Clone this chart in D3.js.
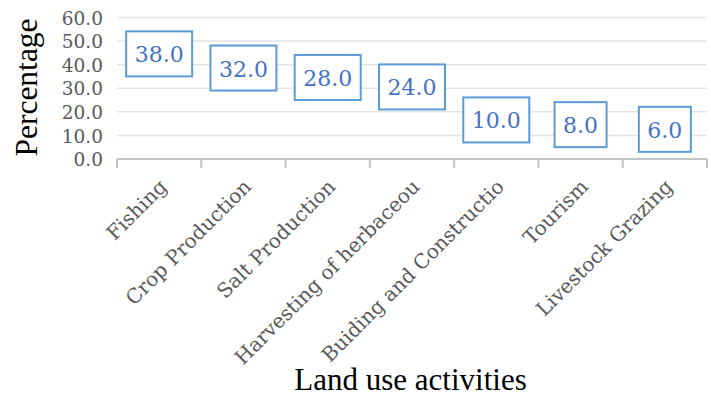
<!DOCTYPE html>
<html>
<head>
<meta charset="utf-8">
<script src="https://cdn.jsdelivr.net/npm/d3@7"></script>
<style>
  html, body { margin: 0; padding: 0; background: #fff; }
  svg { display: block; }
</style>
</head>
<body>
<svg id="chart" width="711" height="396"></svg>
<script>
// Land use activities and their share (%)
const categories = ["Fishing", "Crop Production", "Salt Production", "Harvesting of herbaceou",
                    "Buiding and Constructio", "Tourism", "Livestock Grazing"];
const values = [38.0, 32.0, 28.0, 24.0, 10.0, 8.0, 6.0];
const yTicks = [0, 10, 20, 30, 40, 50, 60];

const svg = d3.select("#chart");
const plot = { left: 117, right: 707, top: 17.5, bottom: 159 };

const x = d3.scaleBand().domain(categories).range([plot.left, plot.right]).padding(0);
const y = d3.scaleLinear().domain([0, 60]).range([plot.bottom, plot.top]);

// gridlines
svg.append("g").selectAll("line").data(yTicks.filter(d => d > 0)).join("line")
  .attr("x1", plot.left).attr("x2", plot.right)
  .attr("y1", d => y(d)).attr("y2", d => y(d))
  .attr("stroke", "#e3e3e3").attr("stroke-width", 1.5);

// y axis tick labels
const yAxis = d3.axisLeft(y).tickValues(yTicks).tickFormat(d3.format(".1f")).tickSize(0).tickPadding(0);
const yg = svg.append("g").attr("transform", `translate(103,0)`).call(yAxis);
yg.select(".domain").remove();
yg.selectAll("text")
  .attr("font-family", "DejaVu Serif").attr("font-size", 18.5).attr("fill", "#595959")
  .attr("dy", "0.36em");

// x axis with ticks between categories
const xg = svg.append("g").attr("transform", `translate(0,${plot.bottom})`);
xg.append("line").attr("x1", plot.left).attr("x2", plot.right)
  .attr("stroke", "#c4c4c4").attr("stroke-width", 2);
const edges = categories.map(c => x(c)).concat([plot.right]);
xg.selectAll("line.tick").data(edges).join("line").attr("class", "tick")
  .attr("x1", d => d).attr("x2", d => d).attr("y1", 0).attr("y2", 9)
  .attr("stroke", "#c4c4c4").attr("stroke-width", 2);

xg.selectAll("text.cat").data(categories).join("text").attr("class", "cat")
  .attr("transform", d => `translate(${x(d) + x.bandwidth() / 2 + 4},${24}) rotate(-45)`)
  .attr("text-anchor", "end")
  .attr("dy", "0.35em")
  .attr("font-family", "DejaVu Serif").attr("font-size", 20).attr("fill", "#595959")
  .text(d => d);

// invisible bars (no fill)
const data = categories.map((c, i) => ({ c, v: values[i] }));
svg.append("g").selectAll("rect").data(data).join("rect")
  .attr("x", d => x(d.c) + x.bandwidth() * 0.2).attr("width", x.bandwidth() * 0.6)
  .attr("y", d => y(d.v)).attr("height", d => y(0) - y(d.v))
  .attr("fill", "none");

// boxed value labels
const lab = svg.append("g").selectAll("g").data(data).join("g")
  .attr("transform", d => `translate(${x(d.c) + x.bandwidth() / 2},${y(d.v) - 15.5})`);
lab.append("rect");
lab.append("text")
  .attr("text-anchor", "middle").attr("y", 8.5)
  .attr("font-family", "DejaVu Serif").attr("font-size", 22).attr("fill", "#4472c4")
  .text(d => d.v.toFixed(1));
lab.each(function() {
  const g = d3.select(this);
  const w = g.select("text").node().getBBox().width + 17;
  g.select("rect").attr("x", -w / 2).attr("y", -22.5).attr("width", w).attr("height", 45)
    .attr("fill", "#fff").attr("stroke", "#5b9bd5").attr("stroke-width", 2);
});

// axis titles
svg.append("text")
  .attr("transform", `translate(37,87.5) rotate(-90)`)
  .attr("text-anchor", "middle")
  .attr("font-family", "Liberation Serif").attr("font-size", 31.5).attr("fill", "#000")
  .text("Percentage");
svg.append("text")
  .attr("x", 410.5).attr("y", 390).attr("text-anchor", "middle")
  .attr("font-family", "Liberation Serif").attr("font-size", 31).attr("fill", "#000")
  .text("Land use activities");
</script>
</body>
</html>
